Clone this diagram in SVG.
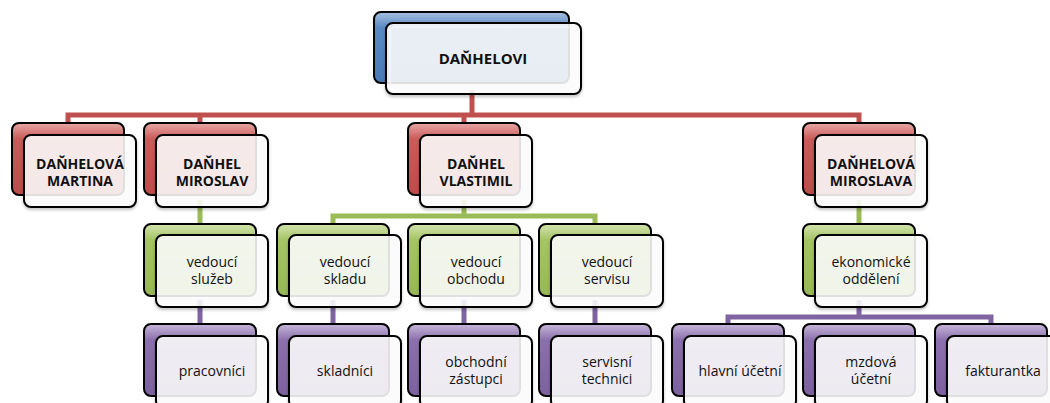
<svg xmlns="http://www.w3.org/2000/svg" width="1050" height="403" viewBox="0 0 1050 403">
<defs>
<linearGradient id="gBlue" x1="0" y1="0" x2="0" y2="1"><stop offset="0" stop-color="#A7C0E0"/><stop offset="0.22" stop-color="#5A8AC4"/><stop offset="1" stop-color="#4A7AB5"/></linearGradient>
<linearGradient id="gRed" x1="0" y1="0" x2="0" y2="1"><stop offset="0" stop-color="#E8A9A7"/><stop offset="0.22" stop-color="#C95C59"/><stop offset="1" stop-color="#BC4C49"/></linearGradient>
<linearGradient id="gGreen" x1="0" y1="0" x2="0" y2="1"><stop offset="0" stop-color="#D3E4AE"/><stop offset="0.22" stop-color="#A5C466"/><stop offset="1" stop-color="#97B756"/></linearGradient>
<linearGradient id="gPurple" x1="0" y1="0" x2="0" y2="1"><stop offset="0" stop-color="#C7B8DA"/><stop offset="0.22" stop-color="#8C70AD"/><stop offset="1" stop-color="#7D619F"/></linearGradient>
<filter id="sh" x="-10%" y="-10%" width="130%" height="140%"><feDropShadow dx="0" dy="2" stdDeviation="1.5" flood-color="#000" flood-opacity="0.25"/></filter>
</defs>
<style>
.back{stroke:#000;stroke-width:2}
.front{fill:#fff;fill-opacity:0.86;stroke:#000;stroke-width:2;filter:url(#sh)}
.inner{fill:none;stroke:#fff;stroke-opacity:0.7;stroke-width:1.2}
.red .back{fill:url(#gRed)}
.green .back{fill:url(#gGreen)}
.purple .back{fill:url(#gPurple)}
.blue .back{fill:url(#gBlue)}
text{font-family:"Open Sans","Liberation Sans",sans-serif;font-size:14px;fill:#111;text-anchor:middle}
.b{font-weight:bold}
.top{font-size:15px}
.cr{stroke:#C0504D}
.cg{stroke:#9BBB59}
.cp{stroke:#8064A2}
#connectors path{fill:none;stroke-width:5}
</style>
<g id="connectors">
<path class="cr" d="M472,90 V115 M68,123 V115 H859 V123 M200,115 V123 M464,115 V123"/>
<path class="cg" d="M200,200 V224 M464,200 V216 M333,224 V216 H595 V224 M859,200 V224"/>
<path class="cp" d="M200,300 V324 M333,300 V324 M464,300 V324 M595,300 V324 M859,300 V317 M728,324 V317 H991 V324"/>
</g>
<g id="n-danhelovi" class="blue">
<rect class="back" x="374" y="12" width="195" height="71" rx="7"/>
<rect class="front" x="386" y="23" width="195" height="71" rx="7"/>
<rect class="inner" x="390" y="27" width="187" height="63" rx="5"/>
<text class="b top" x="483" y="64">DAŇHELOVI</text>
</g>
<g id="n-martina" class="red">
<rect class="back" x="12" y="123" width="112" height="72" rx="7"/>
<rect class="front" x="24" y="135" width="112" height="72" rx="7"/>
<text class="b" x="80" y="169">DAŇHELOVÁ</text>
<text class="b" x="80" y="186">MARTINA</text>
</g>
<g id="n-miroslav" class="red">
<rect class="back" x="144" y="123" width="112" height="72" rx="7"/>
<rect class="front" x="156" y="135" width="112" height="72" rx="7"/>
<text class="b" x="212" y="169">DAŇHEL</text>
<text class="b" x="212" y="186">MIROSLAV</text>
</g>
<g id="n-vlastimil" class="red">
<rect class="back" x="408" y="123" width="112" height="72" rx="7"/>
<rect class="front" x="420" y="135" width="112" height="72" rx="7"/>
<text class="b" x="476" y="169">DAŇHEL</text>
<text class="b" x="476" y="186">VLASTIMIL</text>
</g>
<g id="n-miroslava" class="red">
<rect class="back" x="803" y="123" width="112" height="72" rx="7"/>
<rect class="front" x="815" y="135" width="112" height="72" rx="7"/>
<text class="b" x="871" y="169">DAŇHELOVÁ</text>
<text class="b" x="871" y="186">MIROSLAVA</text>
</g>
<g id="n-sluzeb" class="green">
<rect class="back" x="144" y="224" width="112" height="72" rx="7"/>
<rect class="front" x="156" y="235" width="112" height="72" rx="7"/>
<text x="212" y="267">vedoucí</text>
<text x="212" y="284">služeb</text>
</g>
<g id="n-skladu" class="green">
<rect class="back" x="277" y="224" width="112" height="72" rx="7"/>
<rect class="front" x="289" y="235" width="112" height="72" rx="7"/>
<text x="345" y="267">vedoucí</text>
<text x="345" y="284">skladu</text>
</g>
<g id="n-obchodu" class="green">
<rect class="back" x="408" y="224" width="112" height="72" rx="7"/>
<rect class="front" x="420" y="235" width="112" height="72" rx="7"/>
<text x="476" y="267">vedoucí</text>
<text x="476" y="284">obchodu</text>
</g>
<g id="n-servisu" class="green">
<rect class="back" x="539" y="224" width="112" height="72" rx="7"/>
<rect class="front" x="551" y="235" width="112" height="72" rx="7"/>
<text x="607" y="267">vedoucí</text>
<text x="607" y="284">servisu</text>
</g>
<g id="n-ekonomicke" class="green">
<rect class="back" x="803" y="224" width="112" height="72" rx="7"/>
<rect class="front" x="815" y="235" width="112" height="72" rx="7"/>
<text x="871" y="267">ekonomické</text>
<text x="871" y="284">oddělení</text>
</g>
<g id="n-pracovnici" class="purple">
<rect class="back" x="144" y="324" width="112" height="72" rx="7"/>
<rect class="front" x="156" y="336" width="112" height="72" rx="7"/>
<text x="212" y="376">pracovníci</text>
</g>
<g id="n-skladnici" class="purple">
<rect class="back" x="277" y="324" width="112" height="72" rx="7"/>
<rect class="front" x="289" y="336" width="112" height="72" rx="7"/>
<text x="345" y="376">skladníci</text>
</g>
<g id="n-zastupci" class="purple">
<rect class="back" x="408" y="324" width="112" height="72" rx="7"/>
<rect class="front" x="420" y="336" width="112" height="72" rx="7"/>
<text x="476" y="367">obchodní</text>
<text x="476" y="384">zástupci</text>
</g>
<g id="n-technici" class="purple">
<rect class="back" x="539" y="324" width="112" height="72" rx="7"/>
<rect class="front" x="551" y="336" width="112" height="72" rx="7"/>
<text x="607" y="367">servisní</text>
<text x="607" y="384">technici</text>
</g>
<g id="n-hlavni" class="purple">
<rect class="back" x="672" y="324" width="112" height="72" rx="7"/>
<rect class="front" x="684" y="336" width="112" height="72" rx="7"/>
<text x="740" y="376">hlavní účetní</text>
</g>
<g id="n-mzdova" class="purple">
<rect class="back" x="803" y="324" width="112" height="72" rx="7"/>
<rect class="front" x="815" y="336" width="112" height="72" rx="7"/>
<text x="871" y="367">mzdová</text>
<text x="871" y="384">účetní</text>
</g>
<g id="n-fakturantka" class="purple">
<rect class="back" x="935" y="324" width="112" height="72" rx="7"/>
<rect class="front" x="947" y="336" width="112" height="72" rx="7"/>
<text x="1003" y="376">fakturantka</text>
</g>
</svg>
